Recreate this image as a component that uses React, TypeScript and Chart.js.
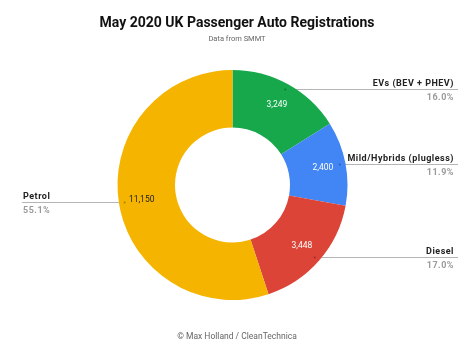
import React, { useEffect, useRef } from "react";
import { Chart, registerables } from "chart.js";

Chart.register(...registerables);

const categories = ["EVs (BEV + PHEV)", "Mild/Hybrids (plugless)", "Diesel", "Petrol"];
const registrations = [3249, 2400, 3448, 11150];
const shareLabels = ["16.0%", "11.9%", "17.0%", "55.1%"];
const valueLabels = ["3,249", "2,400", "3,448", "11,150"];
const sliceColors = ["#17a84c", "#4285f4", "#db4437", "#f4b400"];
const valueTextColors = ["#ffffff", "#ffffff", "#ffffff", "#222222"];

const titleText = "May 2020 UK Passenger Auto Registrations";
const subtitleText = "Data from SMMT";
const footerText = "© Max Holland / CleanTechnica";

const FONT = "Roboto, 'Noto Sans', Arial, sans-serif";

function leaderGeom(arc: any) {
  const p = arc.getProps(["x", "y", "startAngle", "endAngle", "innerRadius", "outerRadius"], true);
  const mid = (p.startAngle + p.endAngle) / 2;
  const rl = p.outerRadius * 0.95;
  const lx = p.x + Math.cos(mid) * rl;
  const ly = Math.round(p.y + Math.sin(mid) * rl) + 0.5;
  const right = Math.cos(mid) >= 0;
  return { p, mid, lx, ly, right };
}

const annotatePlugin = {
  id: "annotate",
  beforeDatasetsDraw(chart: any) {
    const ctx = chart.ctx as CanvasRenderingContext2D;
    const meta = chart.getDatasetMeta(0);
    ctx.save();
    meta.data.forEach((arc: any) => {
      const { lx, ly, right } = leaderGeom(arc);
      const endX = right ? 458 : 22;
      ctx.strokeStyle = "#b5b5b5";
      ctx.lineWidth = 1;
      ctx.beginPath();
      ctx.moveTo(lx, ly);
      ctx.lineTo(endX, ly);
      ctx.stroke();
    });
    ctx.restore();
  },
  afterDatasetsDraw(chart: any) {
    const ctx = chart.ctx as CanvasRenderingContext2D;
    const meta = chart.getDatasetMeta(0);
    const W = chart.width;
    ctx.save();
    // title
    ctx.textAlign = "center";
    ctx.textBaseline = "alphabetic";
    ctx.fillStyle = "#111111";
    ctx.font = `bold 14px ${FONT}`;
    ctx.fillText(titleText, W / 2, 27);
    ctx.fillStyle = "#666666";
    ctx.font = `7.5px ${FONT}`;
    ctx.fillText(subtitleText, W / 2, 41);
    ctx.font = `8.5px ${FONT}`;
    ctx.fillStyle = "#666666";
    ctx.fillText(footerText, W / 2, 339);

    meta.data.forEach((arc: any, i: number) => {
      const { p, mid, lx, ly, right } = leaderGeom(arc);
      // value label
      const rv = p.innerRadius + (p.outerRadius - p.innerRadius) * 0.6;
      ctx.fillStyle = valueTextColors[i];
      ctx.font = `8.5px ${FONT}`;
      ctx.textAlign = "center";
      ctx.textBaseline = "middle";
      (ctx as any).letterSpacing = "0px";
      ctx.fillText(valueLabels[i], p.x + Math.cos(mid) * rv, p.y + Math.sin(mid) * rv);
      // leader dot
      ctx.fillStyle = "rgba(0,0,0,0.3)";
      ctx.beginPath();
      ctx.arc(lx, ly, 1, 0, Math.PI * 2);
      ctx.fill();
      // category + share
      ctx.textAlign = right ? "right" : "left";
      const tx = right ? 454 : 23;
      ctx.textBaseline = "alphabetic";
      (ctx as any).letterSpacing = "0.5px";
      ctx.fillStyle = "#222222";
      ctx.font = `bold 9px ${FONT}`;
      ctx.fillText(categories[i], tx, ly - 3.5);
      ctx.fillStyle = "#9a9a9a";
      ctx.font = `bold 9px ${FONT}`;
      ctx.fillText(shareLabels[i], tx, ly + 10);
    });
    ctx.restore();
  },
};

export default function App() {
  const canvasRef = useRef<HTMLCanvasElement | null>(null);

  useEffect(() => {
    document.body.style.margin = "0";
    const canvas = canvasRef.current;
    if (!canvas) return;
    const chart = new Chart(canvas, {
      type: "doughnut",
      data: {
        labels: categories,
        datasets: [
          {
            data: registrations,
            backgroundColor: sliceColors,
            borderWidth: 0,
          },
        ],
      },
      options: {
        responsive: false,
        animation: false,
        cutout: "50%",
        layout: { padding: { top: 70, bottom: 59, left: 115, right: 124 } },
        plugins: {
          legend: { display: false },
          title: { display: false },
          tooltip: { enabled: false },
        },
      },
      plugins: [annotatePlugin],
    });
    return () => chart.destroy();
  }, []);

  return (
    <div style={{ width: 474, height: 359, background: "#ffffff" }}>
      <canvas ref={canvasRef} width={474} height={359} style={{ display: "block" }} />
    </div>
  );
}
